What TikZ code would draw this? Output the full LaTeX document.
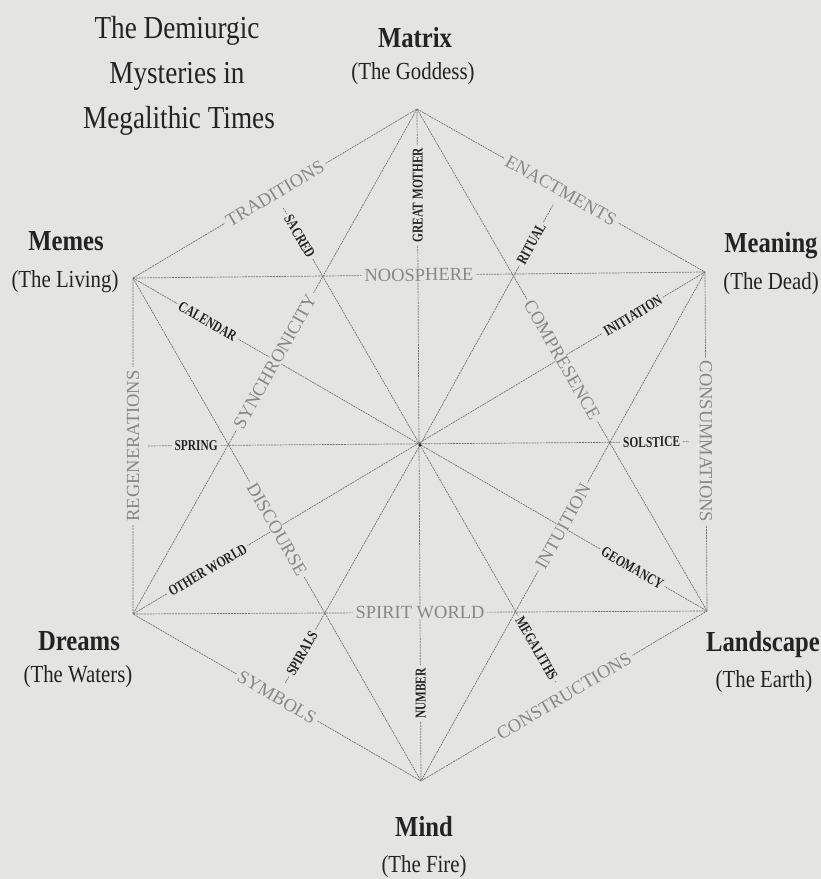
\documentclass[tikz,border=0pt]{standalone}
\usepackage{fontspec}
\setmainfont{Liberation Serif}
\newfontfamily\condserif[FakeStretch=0.85]{Liberation Serif}
\newfontfamily\narrowserif[FakeStretch=0.76]{Liberation Serif}
\usetikzlibrary{calc}
\definecolor{paper}{RGB}{228,229,227}
\definecolor{lncol}{RGB}{115,115,115}
\definecolor{edgetxt}{RGB}{135,135,135}
\definecolor{ink}{RGB}{35,35,35}
\begin{document}
\begin{tikzpicture}[x=1pt,y=-1pt,
  ln/.style={draw=lncol, line width=0.7pt, dash pattern=on 2pt off 0.8pt},
  edgelbl/.style={fill=paper, inner xsep=3pt, inner ysep=0.5pt, text=edgetxt, font=\fontsize{18.5}{20}\selectfont},
  smalllbl/.style={fill=paper, inner xsep=2.5pt, inner ysep=0.5pt, text=ink, font=\narrowserif\bfseries\fontsize{15}{16}\selectfont},
  vname/.style={anchor=base, text=ink, font=\condserif\bfseries\fontsize{29}{30}\selectfont},
  vsub/.style={anchor=base, text=ink, font=\condserif\fontsize{24.5}{26}\selectfont},
  ttl/.style={anchor=base, text=ink, font=\condserif\fontsize{32}{34}\selectfont}
]
\fill[paper] (0,0) rectangle (821,879);
\useasboundingbox (0,0) rectangle (821,879);

% vertices
\coordinate (matrix) at (417,109);
\coordinate (meaning) at (705,272);
\coordinate (landscape) at (707,611);
\coordinate (mind) at (421,781);
\coordinate (dreams) at (133,614);
\coordinate (memes) at (133,278);
\coordinate (c) at (420,445);

% edge midpoints
\coordinate (mTR) at ($(memes)!0.5!(matrix)$);
\coordinate (mEN) at ($(matrix)!0.5!(meaning)$);
\coordinate (mCO) at ($(meaning)!0.5!(landscape)$);
\coordinate (mCN) at ($(landscape)!0.5!(mind)$);
\coordinate (mSY) at ($(mind)!0.5!(dreams)$);
\coordinate (mRE) at ($(dreams)!0.5!(memes)$);

% spoke ends
\coordinate (sTR) at ($(c)!0.945!(mTR)$);
\coordinate (sEN) at ($(c)!0.945!(mEN)$);
\coordinate (sCN) at ($(c)!0.945!(mCN)$);
\coordinate (sSY) at ($(c)!0.945!(mSY)$);
\coordinate (sRE) at ($(c)!0.948!(mRE)$);
\coordinate (sCO) at ($(c)!0.94!(mCO)$);

% lines
\draw[ln] (matrix) -- (meaning) -- (landscape) -- (mind) -- (dreams) -- (memes) -- cycle;
\draw[ln] (memes) -- (meaning) (dreams) -- (landscape);
\draw[ln] (matrix) -- (landscape) (matrix) -- (dreams) (memes) -- (mind) (meaning) -- (mind);
\draw[ln] (matrix) -- (mind) (memes) -- (landscape) (meaning) -- (dreams);
\draw[ln] (sRE) -- (sCO);
\draw[ln] (c) -- (sTR) (c) -- (sEN) (c) -- (sCN) (c) -- (sSY);
\fill[ink] (c) circle[radius=1.6pt];

% edge labels
\path (memes) -- (matrix) node[edgelbl, sloped, pos=0.5] (eTR) {TRADITIONS};
\path (matrix) -- (meaning) node[edgelbl, sloped, pos=0.5] (eEN) {ENACTMENTS};
\node[edgelbl, rotate=-90] (eCO) at (mCO) {CONSUMMATIONS};
\path (landscape) -- (mind) node[edgelbl, sloped, pos=0.5] (eCN) {CONSTRUCTIONS};
\path (mind) -- (dreams) node[edgelbl, sloped, pos=0.5] (eSY) {SYMBOLS};
\node[edgelbl, rotate=90] (eRE) at (mRE) {REGENERATIONS};
\path (memes) -- (meaning) node[edgelbl, sloped, pos=0.5] (eNO) {NOOSPHERE};
\path (dreams) -- (landscape) node[edgelbl, sloped, pos=0.5] (eSW) {SPIRIT WORLD};
\path (dreams) -- (matrix) node[edgelbl, sloped, pos=0.5] (eSC) {SYNCHRONICITY};
\path (memes) -- (mind) node[edgelbl, sloped, pos=0.5] (eDI) {DISCOURSE};
\path (matrix) -- (landscape) node[edgelbl, sloped, pos=0.5] (eCP) {COMPRESENCE};
\path (meaning) -- (mind) node[edgelbl, sloped, pos=0.5] (eIN) {INTUITION};

% small labels
\node[smalllbl, rotate=90] (kGM) at ($(c)!0.744!(matrix)$) {GREAT MOTHER};
\node[smalllbl, rotate=90] (kNU) at ($(c)!0.74!(mind)$) {NUMBER};
\path (c) -- (mTR) node[smalllbl, sloped, pos=0.83] (kSA) {SACRED};
\path (c) -- (mEN) node[smalllbl, sloped, pos=0.79] (kRI) {RITUAL};
\path (c) -- (mCN) node[smalllbl, sloped, pos=0.81] (kME) {MEGALITHS};
\path (c) -- (mSY) node[smalllbl, sloped, pos=0.825] (kSP) {SPIRALS};
\path (c) -- (mRE) node[smalllbl, sloped, pos=0.78] (kSG) {SPRING};
\path (c) -- (mCO) node[smalllbl, sloped, pos=0.81] (kSO) {SOLSTICE};
\path (c) -- (memes) node[smalllbl, sloped, pos=0.74] (kCA) {CALENDAR};
\path (c) -- (meaning) node[smalllbl, sloped, pos=0.747] (kIT) {INITIATION};
\path (c) -- (landscape) node[smalllbl, sloped, pos=0.74] (kGE) {GEOMANCY};
\path (c) -- (dreams) node[smalllbl, sloped, pos=0.74] (kOW) {OTHER WORLD};

% title
\node[ttl] (t1) at (177,38) {The Demiurgic};
\node[ttl] (t2) at (177,83) {Mysteries in};
\node[ttl] (t3) at (179,128) {Megalithic Times};

% vertex names
\node[vname] (nMatrix) at (415,47) {Matrix};
\node[vsub] (sMatrix) at (413,79) {(The Goddess)};
\node[vname] (nMemes) at (66,250) {Memes};
\node[vsub] (sMemes) at (65,287) {(The Living)};
\node[vname] (nMeaning) at (771,252) {Meaning};
\node[vsub, anchor=base east, inner xsep=0pt] (sMeaning) at (819,289) {(The Dead)};
\node[vname] (nDreams) at (79,650) {Dreams};
\node[vsub] (sDreams) at (78,682) {(The Waters)};
\node[vname] (nLandscape) at (763,651) {Landscape};
\node[vsub] (sLandscape) at (764,687) {(The Earth)};
\node[vname] (nMind) at (424,836) {Mind};
\node[vsub] (sMind) at (424,872) {(The Fire)};
\end{tikzpicture}
\end{document}
